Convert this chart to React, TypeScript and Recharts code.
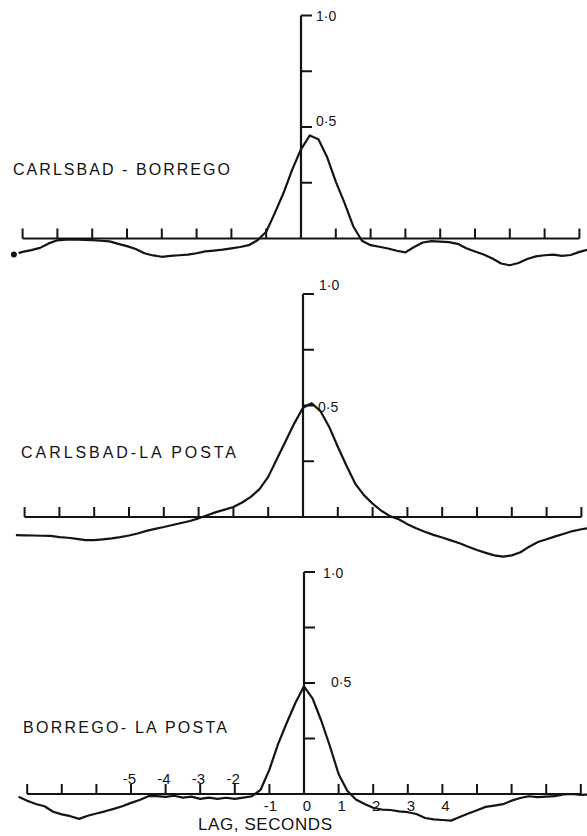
import React from 'react';
import { LineChart, Line, XAxis, YAxis, ReferenceLine } from 'recharts';

// ---------- data ----------
const LAGS = [
  -8.25, -8, -7.75, -7.5, -7.25, -7, -6.75, -6.5, -6.25, -6, -5.75, -5.5, -5.25, -5, -4.75, -4.5, -4.25,
  -4, -3.75, -3.5, -3.25, -3, -2.75, -2.5, -2.25, -2, -1.75, -1.5, -1.25, -1, -0.75, -0.5, -0.25,
  0, 0.25, 0.5, 0.75, 1, 1.25, 1.5, 1.75, 2, 2.25, 2.5, 2.75, 3, 3.25, 3.5, 3.75, 4, 4.25,
  4.5, 4.75, 5, 5.25, 5.5, 5.75, 6, 6.25, 6.5, 6.75, 7, 7.25, 7.5, 7.75, 8, 8.25,
];

const CARLSBAD_BORREGO = [
  -0.072, -0.06, -0.052, -0.042, -0.022, -0.008, -0.005, -0.004, -0.006, -0.007, -0.01, -0.013, -0.024, -0.034, -0.047, -0.066, -0.076,
  -0.082, -0.078, -0.075, -0.072, -0.066, -0.058, -0.054, -0.05, -0.044, -0.038, -0.03, -0.008, 0.03, 0.115, 0.205, 0.31,
  0.4, 0.462, 0.445, 0.365, 0.255, 0.16, 0.055, -0.01, -0.03, -0.037, -0.045, -0.055, -0.062, -0.038, -0.018, -0.012, -0.014, -0.016,
  -0.024, -0.044, -0.058, -0.072, -0.09, -0.112, -0.12, -0.11, -0.092, -0.08, -0.075, -0.072, -0.078, -0.074, -0.06, -0.05,
];

const CARLSBAD_LA_POSTA = [
  -0.081, -0.082, -0.083, -0.084, -0.085, -0.09, -0.093, -0.098, -0.104, -0.104, -0.1, -0.096, -0.09, -0.083, -0.074, -0.062, -0.053,
  -0.045, -0.036, -0.027, -0.018, -0.006, 0.008, 0.022, 0.033, 0.045, 0.065, 0.09, 0.125, 0.18, 0.26, 0.34, 0.42,
  0.49, 0.51, 0.475, 0.405, 0.315, 0.23, 0.15, 0.098, 0.06, 0.028, 0.004, -0.01, -0.032, -0.05, -0.066, -0.08, -0.092, -0.105,
  -0.118, -0.133, -0.148, -0.161, -0.172, -0.178, -0.172, -0.158, -0.133, -0.112, -0.1, -0.087, -0.075, -0.063, -0.055, -0.049,
];

const BORREGO_LA_POSTA = [
  -0.012, -0.03, -0.045, -0.055, -0.08, -0.092, -0.1, -0.112, -0.098, -0.088, -0.078, -0.067, -0.055, -0.04, -0.027, -0.01, -0.01,
  -0.013, -0.008, -0.016, -0.012, -0.022, -0.016, -0.022, -0.017, -0.022, -0.016, -0.01, 0.02, 0.11, 0.225, 0.32, 0.41,
  0.485, 0.43, 0.33, 0.215, 0.09, 0.015, -0.025, -0.045, -0.062, -0.07, -0.072, -0.078, -0.082, -0.09, -0.108, -0.114, -0.117, -0.12,
  -0.104, -0.088, -0.073, -0.058, -0.052, -0.046, -0.03, -0.018, -0.01, -0.014, -0.012, -0.01, -0.002, 0, -0.004, -0.002,
];

const PANEL_TITLES = ['CARLSBAD - BORREGO', 'CARLSBAD-LA POSTA', 'BORREGO- LA POSTA'];
const X_TICKS = [-8, -7, -6, -5, -4, -3, -2, -1, 0, 1, 2, 3, 4, 5, 6, 7, 8];
const Y_TICKS = [0.25, 0.5, 0.75, 1];
const Y_TICK_LABELS = [
  { value: 1, text: '1·0' },
  { value: 0.5, text: '0·5' },
];
const X_TICK_LABELS = [
  { value: -5, text: '-5' },
  { value: -4, text: '-4' },
  { value: -3, text: '-3' },
  { value: -2, text: '-2' },
  { value: -1, text: '-1' },
  { value: 0, text: '0' },
  { value: 1, text: '1' },
  { value: 2, text: '2' },
  { value: 3, text: '3' },
  { value: 4, text: '4' },
];
const X_AXIS_TITLE = 'LAG, SECONDS';

// ---------- layout ----------
const W = 587;
const INK = '#141414';
const FONT = '"Liberation Sans", Arial, sans-serif';

type PanelLayout = {
  top: number;
  height: number;
  x0: number; // pixel of lag 0
  kx: number; // px per second
  y0: number; // pixel (relative) of r = 0
  ky: number; // px per unit r
  yLabel: { gap: number; dy: number }[];
  title: { x: number; y: number; len: number };
};

const LAYOUT: PanelLayout[] = [
  { top: 0, height: 275, x0: 301, kx: 34.8, y0: 238.5, ky: 223,
    yLabel: [{ gap: 4, dy: 0 }, { gap: 4, dy: -6 }], title: { x: 13, y: 175, len: 217 } },
  { top: 275, height: 285, x0: 303, kx: 34.8, y0: 242, ky: 223,
    yLabel: [{ gap: 5, dy: -9 }, { gap: 4, dy: 1 }], title: { x: 21, y: 458, len: 215 } },
  { top: 560, height: 276, x0: 304, kx: 34.6, y0: 234, ky: 222,
    yLabel: [{ gap: 8, dy: 1 }, { gap: 16, dy: -1 }], title: { x: 23, y: 733, len: 204 } },
];

const SERIES = [CARLSBAD_BORREGO, CARLSBAD_LA_POSTA, BORREGO_LA_POSTA];

function YTickText(props: any) {
  const { viewBox, text, gap, dy } = props;
  if (!viewBox) return null;
  const { x, y, width } = viewBox;
  return (
    <text x={x + width + gap} y={y + dy} dominantBaseline="central" fill={INK}
      fontSize={14} fontFamily={FONT}>{text}</text>
  );
}

function XTickText(props: any) {
  const { viewBox, text, above } = props;
  if (!viewBox) return null;
  const { x, y, height } = viewBox;
  if (above) {
    return (
      <text x={x + 5} y={y} textAnchor="end" fill={INK} fontSize={15} fontFamily={FONT}>{text}</text>
    );
  }
  return (
    <text x={x + (text === '-1' ? 1 : 3)} y={y + height + 17} textAnchor="middle" fill={INK}
      fontSize={15} fontFamily={FONT}>{text}</text>
  );
}

function Panel({ index }: { index: number }) {
  const L = LAYOUT[index];
  const values = SERIES[index];
  const rows = LAGS.map((lag, i) => ({ lag, r: values[i] }));
  const xDomain = [-L.x0 / L.kx, (W - L.x0) / L.kx];
  const yDomain = [-(L.height - L.y0) / L.ky, L.y0 / L.ky];
  const tickH = 10 / L.ky;
  const tickW = 11 / L.kx;
  const isBottom = index === 2;

  return (
    <div style={{ position: 'absolute', left: 0, top: L.top, width: W, height: L.height }}>
      <LineChart width={W} height={L.height} data={rows} margin={{ top: 0, right: 0, bottom: 0, left: 0 }}>
        <XAxis type="number" dataKey="lag" domain={xDomain} hide allowDataOverflow />
        <YAxis type="number" domain={yDomain} hide allowDataOverflow />
        <ReferenceLine segment={[{ x: -8, y: 0 }, { x: 8, y: 0 }]} stroke={INK} strokeWidth={2.2} />
        <ReferenceLine segment={[{ x: 0, y: 0 }, { x: 0, y: 1 }]} stroke={INK} strokeWidth={2.2} />
        {X_TICKS.map((t) => {
          const lab = isBottom ? X_TICK_LABELS.find((l) => l.value === t) : undefined;
          return (
            <ReferenceLine key={'xt' + t} segment={[{ x: t, y: 0 }, { x: t, y: tickH }]} stroke={INK} strokeWidth={2}
              label={lab ? <XTickText text={lab.text} above={lab.value < -1} /> : undefined} />
          );
        })}
        {Y_TICKS.map((v) => {
          const li = Y_TICK_LABELS.findIndex((l) => l.value === v);
          return (
            <ReferenceLine key={'yt' + v} segment={[{ x: 0, y: v }, { x: tickW, y: v }]} stroke={INK} strokeWidth={2}
              label={li >= 0 ? <YTickText text={Y_TICK_LABELS[li].text} gap={L.yLabel[li].gap} dy={L.yLabel[li].dy} /> : undefined} />
          );
        })}
        <Line type="linear" dataKey="r" stroke={INK} strokeWidth={2.2} strokeLinejoin="round" dot={false} isAnimationActive={false} />
      </LineChart>
    </div>
  );
}

export default function App() {
  return (
    <div style={{ position: 'absolute', left: 0, top: 0, width: W, height: 836, background: '#fff' }}>
      <Panel index={0} />
      <Panel index={1} />
      <Panel index={2} />
      <svg width={W} height={836} style={{ position: 'absolute', left: 0, top: 0, pointerEvents: 'none' }}>
        {PANEL_TITLES.map((t, i) => (
          <text key={t} x={LAYOUT[i].title.x} y={LAYOUT[i].title.y} textLength={LAYOUT[i].title.len}
            lengthAdjust="spacing" fill={INK} fontSize={16} fontFamily={FONT}>{t}</text>
        ))}
        <text x={198} y={830} textLength={134} lengthAdjust="spacing" fill={INK} fontSize={17} fontFamily={FONT}>
          {X_AXIS_TITLE}
        </text>
      </svg>
    </div>
  );
}
